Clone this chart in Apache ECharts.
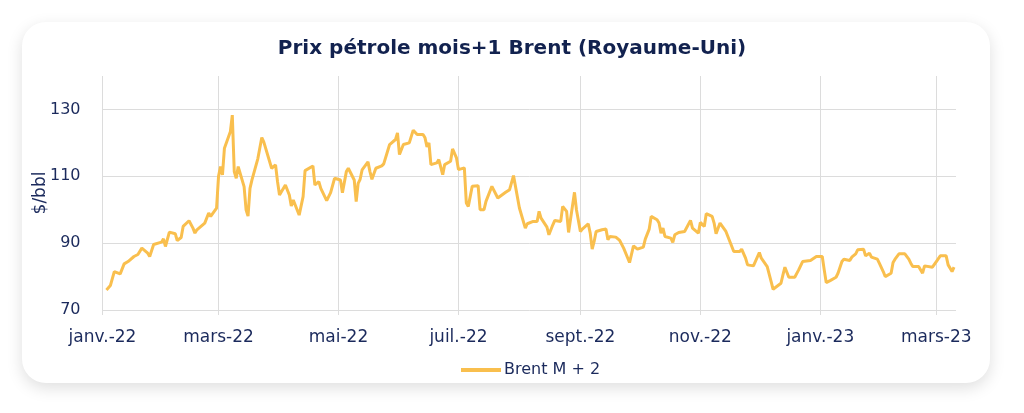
<!DOCTYPE html>
<html>
<head>
<meta charset="utf-8">
<script src="https://cdn.jsdelivr.net/npm/echarts@6/dist/echarts.min.js"></script>
<style>
  html, body { margin:0; padding:0; background:#ffffff; }
  #card { position:absolute; left:22px; top:22px; width:968px; height:361px; border-radius:24px; background:#fff; box-shadow:0 5px 16px rgba(0,0,0,0.13); }
  #chart { position:absolute; left:0; top:0; width:1024px; height:413px; }
</style>
</head>
<body>
<div id="card"></div>
<div id="chart"></div>
<script>
const dates = [
'2022-01-03','2022-01-05','2022-01-07','2022-01-10','2022-01-12','2022-01-14','2022-01-17','2022-01-18','2022-01-19','2022-01-21',
'2022-01-24','2022-01-25','2022-01-27','2022-01-28','2022-01-31','2022-02-01','2022-02-02','2022-02-04','2022-02-07','2022-02-08',
'2022-02-10','2022-02-11','2022-02-14','2022-02-16','2022-02-17','2022-02-18','2022-02-22','2022-02-24','2022-02-25','2022-02-28',
'2022-03-01','2022-03-02','2022-03-03','2022-03-04','2022-03-07','2022-03-08','2022-03-09','2022-03-10','2022-03-11','2022-03-14',
'2022-03-15','2022-03-16','2022-03-17','2022-03-18','2022-03-21','2022-03-22','2022-03-23','2022-03-24','2022-03-25','2022-03-28',
'2022-03-30','2022-03-31','2022-04-01','2022-04-04','2022-04-06','2022-04-07','2022-04-08','2022-04-11','2022-04-13','2022-04-14',
'2022-04-18','2022-04-19','2022-04-20','2022-04-21','2022-04-22','2022-04-25','2022-04-27','2022-04-29','2022-05-02','2022-05-03',
'2022-05-05','2022-05-06','2022-05-09','2022-05-10','2022-05-11','2022-05-12','2022-05-13','2022-05-16','2022-05-17','2022-05-18',
'2022-05-20','2022-05-23','2022-05-24','2022-05-25','2022-05-27','2022-05-30','2022-05-31','2022-06-01','2022-06-03','2022-06-06',
'2022-06-07','2022-06-08','2022-06-10','2022-06-13','2022-06-14','2022-06-15','2022-06-16','2022-06-17','2022-06-20','2022-06-21',
'2022-06-23','2022-06-24','2022-06-27','2022-06-28','2022-06-30','2022-07-01','2022-07-04','2022-07-05','2022-07-06','2022-07-07',
'2022-07-08','2022-07-11','2022-07-12','2022-07-14','2022-07-15','2022-07-18','2022-07-19','2022-07-21','2022-07-25','2022-07-27',
'2022-07-29','2022-08-01','2022-08-02','2022-08-04','2022-08-05','2022-08-08','2022-08-10','2022-08-11','2022-08-12','2022-08-15',
'2022-08-16','2022-08-18','2022-08-19','2022-08-22','2022-08-23','2022-08-25','2022-08-26','2022-08-29','2022-08-30','2022-09-01',
'2022-09-02','2022-09-05','2022-09-06','2022-09-07','2022-09-08','2022-09-09','2022-09-12','2022-09-13','2022-09-14','2022-09-15',
'2022-09-16','2022-09-19','2022-09-21','2022-09-23','2022-09-26','2022-09-28','2022-09-30','2022-10-03','2022-10-04','2022-10-06',
'2022-10-07','2022-10-10','2022-10-11','2022-10-12','2022-10-13','2022-10-14','2022-10-17','2022-10-18','2022-10-19','2022-10-21',
'2022-10-24','2022-10-25','2022-10-27','2022-10-28','2022-10-31','2022-11-01','2022-11-03','2022-11-04','2022-11-07','2022-11-08',
'2022-11-09','2022-11-11','2022-11-14','2022-11-15','2022-11-18','2022-11-21','2022-11-22','2022-11-24','2022-11-25','2022-11-28',
'2022-11-29','2022-12-01','2022-12-02','2022-12-05','2022-12-07','2022-12-08','2022-12-09','2022-12-12','2022-12-13','2022-12-14',
'2022-12-16','2022-12-19','2022-12-20','2022-12-21','2022-12-23','2022-12-27','2022-12-28','2022-12-30','2023-01-02','2023-01-03',
'2023-01-04','2023-01-05','2023-01-06','2023-01-09','2023-01-10','2023-01-12','2023-01-13','2023-01-16','2023-01-17','2023-01-18',
'2023-01-19','2023-01-20','2023-01-23','2023-01-24','2023-01-26','2023-01-27','2023-01-30','2023-01-31','2023-02-02','2023-02-03',
'2023-02-06','2023-02-07','2023-02-08','2023-02-10','2023-02-13','2023-02-15','2023-02-16','2023-02-17','2023-02-20','2023-02-22',
'2023-02-23','2023-02-24','2023-02-27','2023-03-01','2023-03-03','2023-03-06','2023-03-07','2023-03-09','2023-03-10'
];
const prices = [
76.0,77.3,81.5,80.8,83.8,84.5,86.0,86.3,86.6,88.5,
87.0,86.0,89.6,89.3,90.3,91.3,89.0,93.3,92.8,90.8,
91.7,95.0,96.7,94.5,93.0,94.0,96.0,99.0,98.0,100.5,
110.0,112.9,110.4,118.4,123.3,128.3,111.4,109.4,112.9,106.9,
100.0,98.1,106.4,108.9,115.3,115.8,121.6,120.3,120.6,112.4,
113.4,108.4,104.4,107.4,104.4,101.1,102.9,98.4,103.9,111.7,
113.1,107.4,106.9,108.4,106.4,102.7,105.1,109.4,108.9,105.1,
111.4,112.4,108.9,102.4,107.9,109.1,111.9,114.3,111.4,109.1,
112.4,113.1,113.7,114.0,119.5,121.0,123.0,116.5,119.5,120.0,
119.5,123.8,122.5,122.5,121.5,118.8,120.0,113.5,114.0,115.0,
110.5,113.5,114.5,118.2,115.5,112.0,112.5,102.0,101.0,104.0,
107.0,107.2,100.0,100.0,102.5,107.0,107.5,103.5,105.2,106.0,
110.2,100.5,100.0,94.5,95.8,96.5,96.5,99.5,97.5,94.8,
92.5,95.5,96.8,96.5,101.0,99.5,93.2,105.2,100.0,93.5,
94.2,95.8,93.0,88.2,90.5,93.5,94.0,93.8,94.2,91.0,
92.0,91.8,90.8,88.5,84.2,89.2,88.2,88.8,91.2,94.2,
98.0,97.0,96.0,93.0,94.5,92.0,91.5,90.2,92.5,93.2,
93.5,93.5,96.8,94.5,93.0,96.2,95.0,98.8,98.0,96.0,
92.8,96.0,93.5,94.0,87.5,87.5,88.2,85.5,83.5,83.2,
83.0,87.2,85.5,83.0,78.5,76.2,76.5,78.0,80.5,82.8,
79.8,79.8,80.2,82.0,84.5,84.8,84.5,86.0,86.0,82.0,
78.2,78.5,78.8,79.8,81.0,84.5,85.2,84.8,85.8,85.8,
86.8,88.0,88.2,86.2,87.0,85.8,85.2,84.0,81.5,80.0,
81.0,84.2,85.2,86.8,86.8,85.2,84.0,83.0,83.0,81.0,
83.2,83.0,82.8,84.5,86.2,86.2,83.5,81.5,82.8
];
const seriesName = 'Brent M + 2';
const titleText = 'Prix pétrole mois+1 Brent (Royaume-Uni)';
const yName = '$/bbl';
const yTicks = [70, 90, 110, 130];
const monthNames = ['janv.','févr.','mars','avr.','mai','juin','juil.','août','sept.','oct.','nov.','déc.'];
const axisStart = '2022-01-01';
const axisEnd = '2023-03-11';

// calendar days for the category axis
const days = [];
for (let t = Date.parse(axisStart + 'T00:00:00Z'); t <= Date.parse(axisEnd + 'T00:00:00Z'); t += 86400000) {
  days.push(new Date(t).toISOString().slice(0, 10));
}
const priceMap = {};
dates.forEach((d, i) => { priceMap[d] = prices[i]; });
const seriesData = days.map(d => (d in priceMap ? priceMap[d] : null));

const isTick = (idx, val) => val.slice(8) === '01' && parseInt(val.slice(5, 7), 10) % 2 === 1;
const fmt = v => monthNames[parseInt(v.slice(5, 7), 10) - 1] + '-' + v.slice(2, 4);

const navy = '#1b2a5c';
const gridCol = '#dcdcdc';
const font = '"DejaVu Sans", "Noto Sans", sans-serif';

const chart = echarts.init(document.getElementById('chart'), null, { renderer: 'canvas' });
chart.setOption({
  animation: false,
  backgroundColor: 'transparent',
  textStyle: { fontFamily: font },
  title: {
    text: titleText, left: 'center', top: 34,
    textStyle: { color: '#12224f', fontSize: 20, fontWeight: 'bold', fontFamily: font }
  },
  legend: {
    data: [seriesName], left: 456, top: 357, icon: 'rect', itemWidth: 40, itemHeight: 4, itemGap: 5,
    textStyle: { color: navy, fontSize: 16, fontFamily: font, padding: [0, 0, 0, -2] }
  },
  grid: { left: 102.5, right: 68, top: 76, bottom: 103, containLabel: false },
  xAxis: {
    type: 'category', data: days, boundaryGap: false,
    axisLine: { show: false },
    axisTick: { show: true, interval: isTick, length: 5, lineStyle: { color: gridCol } },
    axisLabel: { interval: isTick, formatter: fmt, color: navy, fontSize: 17, margin: 19, fontFamily: font },
    splitLine: { show: true, interval: isTick, lineStyle: { color: gridCol, width: 1 } }
  },
  yAxis: {
    type: 'value', min: 70, max: 140, interval: 10,
    name: yName, nameLocation: 'middle', nameRotate: 90, nameGap: 53, nameMoveOverlap: false,
    nameTextStyle: { color: navy, fontSize: 17, fontFamily: font },
    axisLine: { show: false }, axisTick: { show: false },
    axisLabel: { color: navy, fontSize: 16, margin: 22, fontFamily: font,
      formatter: v => (yTicks.indexOf(v) >= 0 ? String(v) : '') },
    splitLine: { show: true, lineStyle: { color: [gridCol, 'rgba(0,0,0,0)'], width: 1 } }
  },
  series: [{
    name: seriesName, type: 'line', data: seriesData, connectNulls: true,
    showSymbol: false, symbol: 'none',
    lineStyle: { color: '#F9BF4E', width: 3 }, itemStyle: { color: '#F9BF4E' }
  }]
});
</script>
</body>
</html>
